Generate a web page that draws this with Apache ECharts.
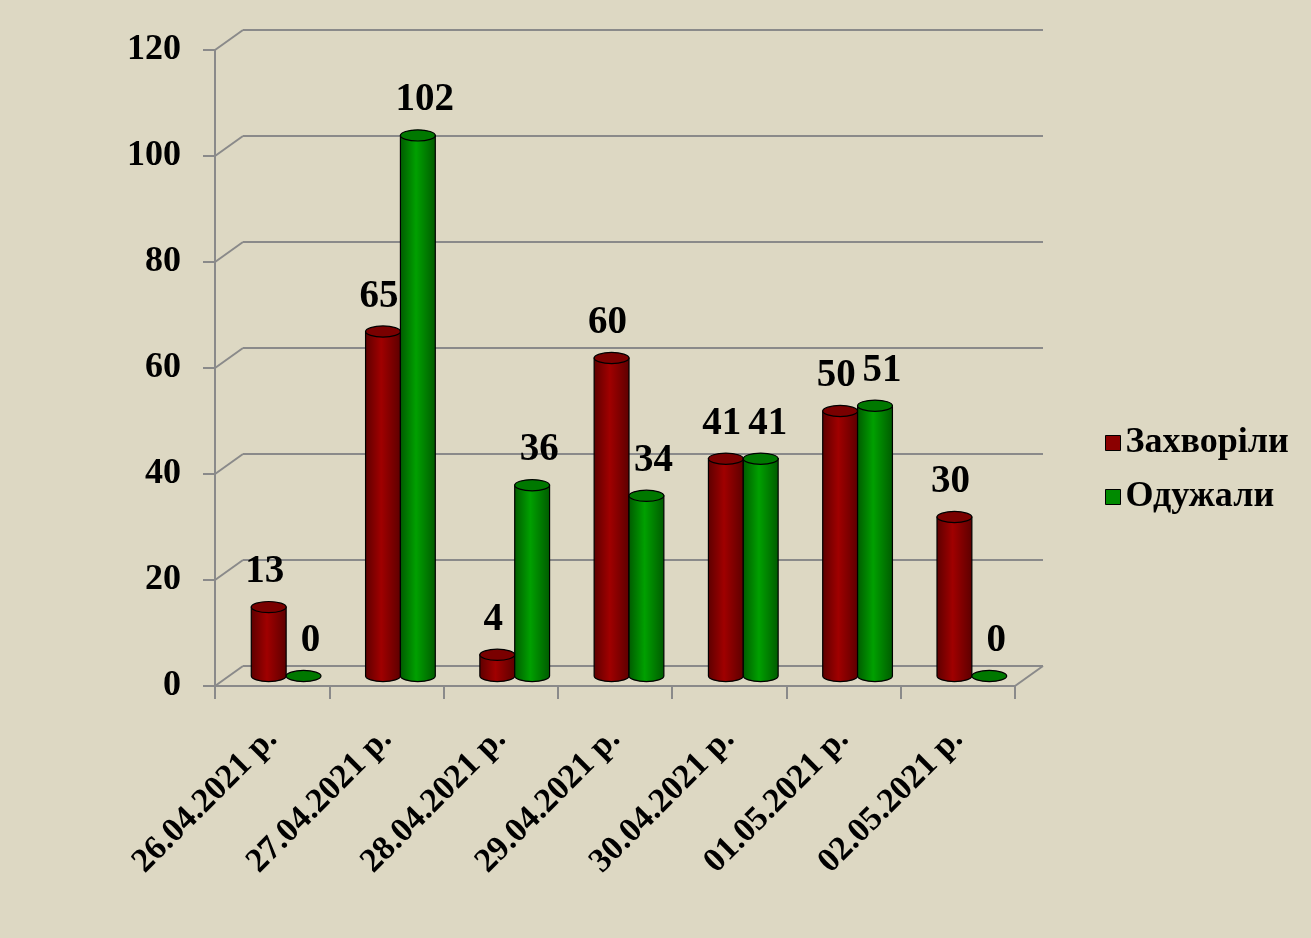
<!DOCTYPE html>
<html><head><meta charset="utf-8">
<script src="https://cdn.jsdelivr.net/npm/echarts@6/dist/echarts.min.js"></script>
<style>html,body{margin:0;padding:0;background:#ddd8c3}#c{width:1311px;height:938px}</style>
</head><body><div id="c"></div>
<script>
const categories = ['26.04.2021 р.', '27.04.2021 р.', '28.04.2021 р.', '29.04.2021 р.', '30.04.2021 р.', '01.05.2021 р.', '02.05.2021 р.'];
const sickValues = [13, 65, 4, 60, 41, 50, 30];
const recoveredValues = [0, 102, 36, 34, 41, 51, 0];
const yTicks = [0, 20, 40, 60, 80, 100, 120];
const seriesNames = ['Захворіли', 'Одужали'];

const FONT = '"Liberation Serif", "Times New Roman", serif';
const GRID_COLOR = '#8a8a8a';
const PLOT = { left: 215, top: 50, width: 800, height: 636 };
const DEPTH = { dx: 28, dy: -20 };

const chart = echarts.init(document.getElementById('c'), null, { renderer: 'canvas' });

function cylinder(sign, colors, labelDx) {
  return function (params, api) {
    const idx = api.value(0), v = api.value(1);
    const top = api.coord([idx, v]);
    const base = api.coord([idx, 0]);
    const catW = api.size([1, 0])[0];
    const w = catW * 0.305;
    const cx = top[0] + sign * w / 2;
    const rx = w / 2, ry = w * 0.16;
    const x0 = cx - rx, x1 = cx + rx;
    const grad = new echarts.graphic.LinearGradient(0, 0, 1, 0, [
      { offset: 0, color: colors.edge },
      { offset: 0.45, color: colors.light },
      { offset: 1, color: colors.edge }
    ]);
    const children = [];
    if (base[1] - top[1] > 0.5) {
      children.push({
        type: 'path',
        shape: { pathData: 'M' + x0 + ' ' + top[1] + ' L' + x0 + ' ' + base[1] + ' A' + rx + ' ' + ry + ' 0 0 0 ' + x1 + ' ' + base[1] + ' L' + x1 + ' ' + top[1] + ' Z' },
        style: { fill: grad, stroke: '#000', lineWidth: 1.2 }
      });
    }
    children.push({
      type: 'ellipse',
      shape: { cx: cx, cy: top[1], rx: rx, ry: ry },
      style: { fill: colors.top, stroke: '#000', lineWidth: 1.2 }
    });
    children.push({
      type: 'text', z2: 100,
      x: cx + labelDx, y: top[1] - 35,
      style: { text: String(v), font: 'bold 39px ' + FONT, fill: '#000', align: 'center', verticalAlign: 'middle' }
    });
    return { type: 'group', children: children };
  };
}

const red = { edge: '#5c0000', light: '#a00000', top: '#7a0000' };
const green = { edge: '#005a00', light: '#00a000', top: '#007800' };

const grids = [
  { left: PLOT.left + DEPTH.dx, top: PLOT.top + DEPTH.dy, width: PLOT.width, height: PLOT.height },
  { left: PLOT.left + DEPTH.dx / 2, top: PLOT.top + DEPTH.dy / 2, width: PLOT.width, height: PLOT.height },
  { left: PLOT.left, top: PLOT.top, width: PLOT.width, height: PLOT.height }
];

const yBase = { type: 'value', min: yTicks[0], max: yTicks[yTicks.length - 1], interval: yTicks[1] - yTicks[0] };

chart.setOption({
  backgroundColor: '#ddd8c3',
  animation: false,
  grid: grids,
  legend: {
    orient: 'vertical', left: 1100, top: 420,
    icon: 'rect', itemWidth: 15, itemHeight: 15, itemGap: 18,
    data: seriesNames,
    textStyle: { fontFamily: FONT, fontWeight: 'bold', fontSize: 36, color: '#000', lineHeight: 36 },
    itemStyle: { borderColor: '#000', borderWidth: 1 }
  },
  xAxis: [
    { gridIndex: 0, type: 'category', data: categories, show: false },
    { gridIndex: 1, type: 'category', data: categories, show: false },
    {
      gridIndex: 2, type: 'category', data: categories,
      axisLine: { lineStyle: { color: GRID_COLOR, width: 2 } },
      axisTick: { show: true, length: 13, lineStyle: { color: GRID_COLOR, width: 2 } },
      axisLabel: { rotate: 45, margin: 48, fontFamily: FONT, fontWeight: 'bold', fontSize: 34, color: '#000' },
      splitLine: { show: false }
    }
  ],
  yAxis: [
    Object.assign({ gridIndex: 0, axisLine: { show: false }, axisTick: { show: false }, axisLabel: { show: false },
      splitLine: { show: true, lineStyle: { color: GRID_COLOR, width: 2 } } }, yBase),
    Object.assign({ gridIndex: 1, show: false, splitLine: { show: false } }, yBase),
    Object.assign({ gridIndex: 2,
      axisLine: { show: true, lineStyle: { color: GRID_COLOR, width: 2 } },
      axisTick: { show: true, length: 12, lineStyle: { color: GRID_COLOR, width: 2 } },
      axisLabel: { margin: 34, fontFamily: FONT, fontWeight: 'bold', fontSize: 36, color: '#000' },
      splitLine: { show: false } }, yBase)
  ],
  series: [
    { name: seriesNames[0], type: 'custom', xAxisIndex: 1, yAxisIndex: 1, itemStyle: { color: '#8b0000' },
      renderItem: cylinder(-1, red, -4), data: sickValues.map((v, i) => [i, v]), encode: { x: 0, y: 1 } },
    { name: seriesNames[1], type: 'custom', xAxisIndex: 1, yAxisIndex: 1, itemStyle: { color: '#008a00' },
      renderItem: cylinder(1, green, 7), data: recoveredValues.map((v, i) => [i, v]), encode: { x: 0, y: 1 } }
  ]
});

// 3D wall decoration: diagonals connecting front axis ticks with back wall gridlines
const graphics = [];
const lineStyle = { stroke: GRID_COLOR, lineWidth: 2 };
yTicks.forEach(t => {
  const yf = chart.convertToPixel({ yAxisIndex: 2 }, t);
  const yb = chart.convertToPixel({ yAxisIndex: 0 }, t);
  graphics.push({ type: 'line', shape: { x1: PLOT.left, y1: yf, x2: PLOT.left + DEPTH.dx, y2: yb }, style: lineStyle, z: 0 });
});
const yf0 = chart.convertToPixel({ yAxisIndex: 2 }, 0);
const yb0 = chart.convertToPixel({ yAxisIndex: 0 }, 0);
graphics.push({ type: 'line', shape: { x1: PLOT.left + PLOT.width, y1: yf0, x2: PLOT.left + PLOT.width + DEPTH.dx, y2: yb0 }, style: lineStyle, z: 0 });
chart.setOption({ graphic: graphics });
</script>
</body></html>
